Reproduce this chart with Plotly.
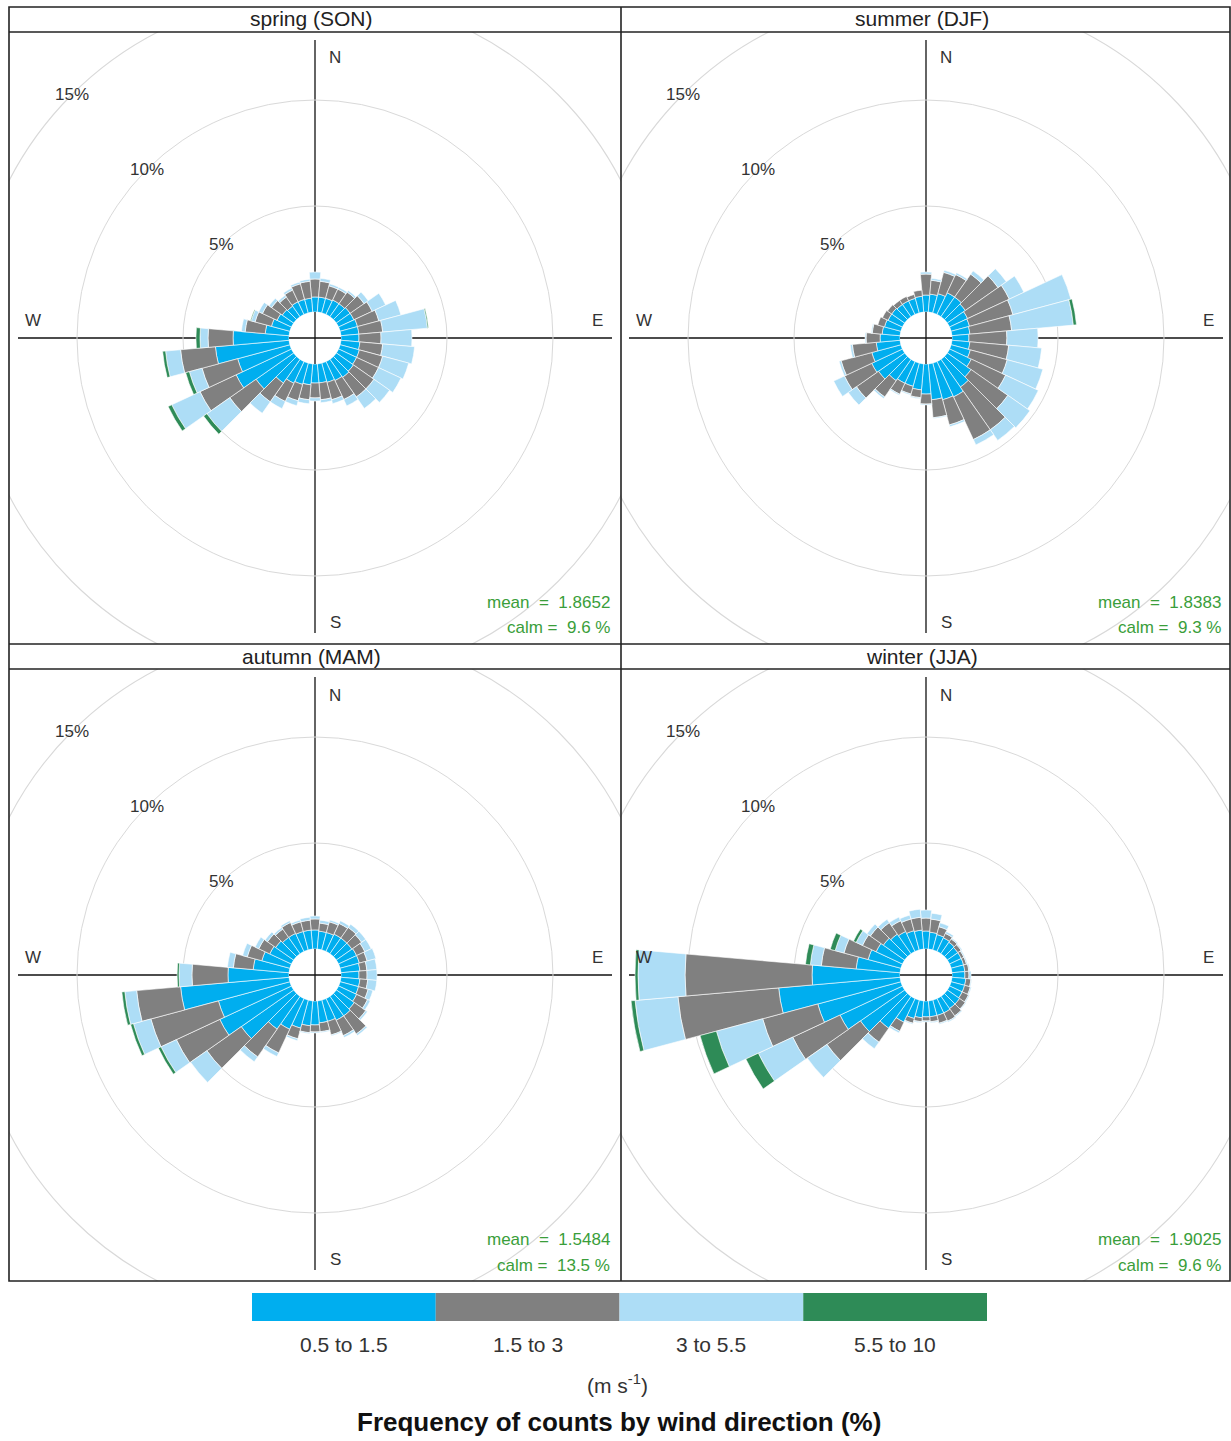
import plotly.graph_objects as go

# ---------------------------------------------------------------- data
DIRECTIONS = list(range(0, 360, 10))          # bin centres, degrees from north
SPEED_BANDS = ["0.5 to 1.5", "1.5 to 3", "3 to 5.5", "5.5 to 10"]
BAND_COLORS = ["#00AEEF", "#808080", "#ADDDF6", "#2E8B57"]

SEASONS = ["spring (SON)", "summer (DJF)", "autumn (MAM)", "winter (JJA)"]
MEAN_SPEED = ["1.8652", "1.8383", "1.5484", "1.9025"]
CALM_PCT = ["9.6", "9.3", "13.5", "9.6"]
GRID_PCT = [5, 10, 15]

# frequency (%) per direction bin, one list per speed band
son_b1 = [0.71, 0.71, 0.71, 0.75, 0.75, 0.80, 0.80, 0.85, 0.85, 0.85, 0.90, 0.94,
          0.94, 0.99, 1.04, 0.99, 0.94, 0.90, 0.90, 0.99, 1.04, 1.13, 1.37, 2.17,
          2.88, 2.55, 3.49, 2.64, 1.13, 0.90, 0.75, 0.66, 0.61, 0.66, 0.66, 0.66]
son_b2 = [0.85, 0.75, 0.61, 0.57, 0.67, 0.80, 0.95, 1.04, 1.13, 1.04, 1.08, 1.14,
          1.14, 1.18, 1.13, 0.99, 0.85, 0.80, 0.70, 0.71, 0.80, 0.95, 1.08, 1.51,
          1.88, 1.74, 1.65, 1.18, 0.95, 0.80, 0.76, 0.61, 0.52, 0.61, 0.76, 0.80]
son_b3 = [0.33, 0.14, 0.10, 0.10, 0.09, 0.24, 0.70, 1.08, 2.12, 1.46, 1.51, 1.27,
          1.17, 0.90, 0.66, 0.33, 0.19, 0.14, 0.15, 0.19, 0.24, 0.37, 0.66, 1.32,
          1.47, 0.62, 0.71, 0.38, 0.18, 0.19, 0.19, 0.15, 0.10, 0.10, 0.09, 0.10]
son_b4 = [0, 0, 0, 0, 0, 0, 0, 0, 0.05, 0, 0, 0,
          0, 0, 0, 0, 0, 0, 0, 0, 0, 0, 0, 0.19,
          0.19, 0.18, 0.14, 0.19, 0, 0.04, 0, 0, 0, 0, 0, 0]

djf_b1 = [0.80, 0.85, 0.94, 1.13, 1.13, 1.04, 0.94, 0.90, 0.85, 0.80, 0.85, 0.94,
          1.13, 1.37, 1.60, 1.84, 1.79, 1.70, 1.42, 1.23, 1.13, 1.13, 1.23, 1.51,
          1.60, 1.42, 1.13, 0.94, 0.85, 0.80, 0.75, 0.75, 0.71, 0.71, 0.71, 0.75]
djf_b2 = [0.99, 0.66, 1.04, 0.95, 1.32, 1.88, 2.17, 2.12, 1.98, 1.79, 1.84, 1.80,
          1.79, 2.12, 2.46, 2.22, 1.23, 0.85, 0.47, 0.37, 0.38, 0.57, 0.94, 1.27,
          1.42, 1.50, 1.13, 0.66, 0.47, 0.33, 0.29, 0.24, 0.23, 0.23, 0.19, 0.29]
djf_b3 = [0.10, 0.09, 0.10, 0.09, 0.19, 0.48, 0.76, 2.83, 2.92, 1.47, 1.56, 1.74,
          1.70, 1.27, 0.61, 0.28, 0.09, 0.04, 0.04, 0.05, 0.05, 0.05, 0.09, 0.47,
          0.56, 0.10, 0.10, 0.05, 0.05, 0, 0, 0, 0, 0, 0, 0]
djf_b4 = [0, 0, 0, 0, 0, 0, 0, 0, 0.15, 0, 0, 0,
          0, 0, 0, 0, 0, 0, 0, 0, 0, 0, 0, 0,
          0, 0, 0, 0, 0, 0, 0, 0, 0, 0, 0, 0]

mam_b1 = [0.90, 0.85, 0.85, 0.90, 0.90, 0.90, 0.94, 0.94, 0.90, 0.85, 0.90, 0.90,
          0.94, 1.04, 1.13, 1.13, 1.04, 1.04, 1.13, 1.18, 1.37, 1.60, 1.89, 3.02,
          3.73, 3.49, 5.14, 2.88, 1.70, 1.37, 1.13, 1.04, 0.94, 0.94, 0.90, 0.90]
mam_b2 = [0.52, 0.38, 0.52, 0.56, 0.61, 0.56, 0.43, 0.38, 0.33, 0.38, 0.37, 0.47,
          0.57, 0.66, 1.04, 0.80, 0.66, 0.42, 0.33, 0.33, 0.52, 1.23, 1.60, 1.98,
          2.26, 3.30, 2.08, 1.70, 0.94, 0.71, 0.57, 0.47, 0.48, 0.57, 0.47, 0.47]
mam_b3 = [0.14, 0.14, 0.09, 0.14, 0.19, 0.24, 0.33, 0.43, 0.47, 0.47, 0.43, 0.23,
          0.14, 0.09, 0.09, 0.10, 0.05, 0.05, 0.05, 0.05, 0.09, 0.19, 0.28, 0.94,
          0.80, 0.85, 0.56, 0.61, 0.28, 0.23, 0.19, 0.14, 0.09, 0.09, 0.09, 0.14]
mam_b4 = [0, 0, 0, 0, 0, 0, 0, 0, 0, 0, 0, 0,
          0, 0, 0, 0, 0, 0, 0, 0, 0, 0, 0, 0,
          0.14, 0.14, 0.14, 0.09, 0, 0, 0, 0, 0, 0, 0, 0]

jja_b1 = [0.85, 0.80, 0.75, 0.71, 0.66, 0.61, 0.61, 0.61, 0.61, 0.61, 0.66, 0.66,
          0.66, 0.71, 0.71, 0.75, 0.75, 0.75, 0.75, 0.80, 0.90, 1.23, 1.84, 2.55,
          3.25, 4.06, 5.75, 4.15, 2.08, 1.60, 1.37, 1.23, 1.13, 1.04, 0.94, 0.90]
jja_b2 = [0.61, 0.62, 0.38, 0.23, 0.19, 0.19, 0.14, 0.14, 0.19, 0.19, 0.24, 0.28,
          0.33, 0.33, 0.42, 0.43, 0.38, 0.24, 0.19, 0.19, 0.23, 0.47, 0.80, 1.93,
          2.46, 2.69, 4.77, 5.99, 1.65, 1.18, 0.71, 0.75, 0.66, 0.56, 0.57, 0.61]
jja_b3 = [0.38, 0.28, 0.19, 0.10, 0.05, 0.05, 0.05, 0.05, 0.05, 0.10, 0.04, 0.05,
          0.05, 0.04, 0.05, 0.05, 0.05, 0.05, 0.05, 0.05, 0.05, 0.09, 0.38, 1.13,
          1.79, 2.26, 2.03, 2.22, 0.52, 0.43, 0.33, 0.19, 0.19, 0.19, 0.19, 0.38]
jja_b4 = [0, 0, 0, 0, 0, 0, 0, 0, 0, 0, 0, 0,
          0, 0, 0, 0, 0, 0, 0, 0, 0, 0, 0, 0,
          0.65, 0.80, 0.19, 0.14, 0.23, 0.24, 0.14, 0, 0, 0, 0, 0]

SEASON_BANDS = [
    [son_b1, son_b2, son_b3, son_b4],
    [djf_b1, djf_b2, djf_b3, djf_b4],
    [mam_b1, mam_b2, mam_b3, mam_b4],
    [jja_b1, jja_b2, jja_b3, jja_b4],
]

# ---------------------------------------------------------------- geometry (px)
W, H = 1231, 1441
PANELS = [(9, 32, 621, 644), (621, 32, 1230, 644),
          (9, 669, 621, 1281), (621, 669, 1230, 1281)]
CENTERS = [(315, 338), (926, 338), (315, 975), (926, 975)]
STRIP_Y = [19, 19, 656, 656]
POLAR_R = 305          # radius of the polar area
HOLE_PX = 26           # calm offset in the middle
PX_PER_PCT = 21.2      # radial scale
FONT = "Liberation Sans, Arial, sans-serif"
TEXT_COL = "#333333"
STAT_COL = "#3A9E3A"
GRID_COL = "#D9D9D9"


def fx(px):
    return px / W


def fy(py):
    return 1 - py / H


def r_px(pct):
    return HOLE_PX + pct * PX_PER_PCT


def label(text, x, y, size, color=TEXT_COL, xanchor="center"):
    return dict(text=text, x=fx(x), y=fy(y), xref="paper", yref="paper",
                xanchor=xanchor, yanchor="middle", showarrow=False,
                font=dict(size=size, color=color, family=FONT))


fig = go.Figure()
shapes = []
annotations = []
layout_extra = {}

for i, (bands, (cx, cy), (x0, y0, x1, y1)) in enumerate(zip(SEASON_BANDS, CENTERS, PANELS)):
    n = "" if i == 0 else str(i + 1)
    polar_name = "polar" + n

    # stacked wind-rose wedges
    for band, vals, col in zip(SPEED_BANDS, bands, BAND_COLORS):
        fig.add_trace(go.Barpolar(
            r=vals, theta=DIRECTIONS, width=[10] * len(DIRECTIONS),
            name=band, subplot=polar_name, showlegend=False,
            marker=dict(color=col, line=dict(color="white", width=0.6)),
            hoverinfo="skip",
        ))

    layout_extra[polar_name] = dict(
        domain=dict(x=[fx(cx - POLAR_R), min(1.0, fx(cx + POLAR_R))],
                    y=[fy(cy + POLAR_R), fy(cy - POLAR_R)]),
        hole=HOLE_PX / POLAR_R,
        bgcolor="rgba(0,0,0,0)",
        barmode="stack",
        angularaxis=dict(rotation=90, direction="clockwise", showgrid=False,
                         showline=False, showticklabels=False, ticks=""),
        radialaxis=dict(range=[0, (POLAR_R - HOLE_PX) / PX_PER_PCT],
                        tickvals=GRID_PCT[:2], showticklabels=False, ticks="",
                        showline=False, showgrid=True, gridcolor=GRID_COL,
                        gridwidth=1.1),
    )

    # cartesian frame under each rose, 1 unit = 1 px, used for the clipped
    # outer grid circle and the compass cross
    xa, ya = "xaxis" + n, "yaxis" + n
    xr, yr = "x" + n, "y" + n
    layout_extra[xa] = dict(domain=[fx(x0), fx(x1)], range=[x0 - cx, x1 - cx],
                            visible=False, fixedrange=True, anchor=yr)
    layout_extra[ya] = dict(domain=[fy(y1), fy(y0)], range=[cy - y1, cy - y0],
                            visible=False, fixedrange=True, anchor=xr)
    fig.add_trace(go.Scatter(x=[None], y=[None], xaxis=xr, yaxis=yr,
                             mode="lines", showlegend=False, hoverinfo="skip"))

    R15 = r_px(GRID_PCT[2])
    shapes.append(dict(type="circle", xref=xr, yref=yr, x0=-R15, x1=R15,
                       y0=-R15, y1=R15, line=dict(color=GRID_COL, width=1.1),
                       layer="below"))
    shapes.append(dict(type="line", xref=xr, yref=yr, x0=0, x1=0, y0=-295, y1=298,
                       line=dict(color="#111111", width=1.3), layer="below"))
    shapes.append(dict(type="line", xref=xr, yref=yr, x0=-297, x1=297, y0=0, y1=0,
                       line=dict(color="#111111", width=1.3), layer="below"))

    # compass letters
    for lab, dx, dy in [("N", 20, -280), ("E", 282, -18), ("S", 20, 284), ("W", -282, -18)]:
        annotations.append(label(lab, cx + dx, cy + dy, 17))
    # percentage labels along the 315 degree direction
    for p in GRID_PCT:
        d = r_px(p) * 0.7071
        annotations.append(label(f"{p}%", cx - d, cy - d, 17))
    # statistics
    nb = "\u00a0"
    annotations.append(label(f"mean{nb}{nb}={nb}{nb}{MEAN_SPEED[i]}", cx + 297, cy + 264,
                             17, STAT_COL, "right"))
    annotations.append(label(f"calm{nb}={nb}{nb}{CALM_PCT[i]}{nb}%", cx + 297, cy + 290,
                             17, STAT_COL, "right"))
    # strip title
    annotations.append(label(SEASONS[i], (x0 + x1) / 2 - 4, STRIP_Y[i], 21, "#222222"))

# panel borders and strips
BORDER = dict(color="#222222", width=1.6)
shapes.append(dict(type="rect", xref="paper", yref="paper", x0=fx(9), x1=fx(1230),
                   y0=fy(1281), y1=fy(7), line=BORDER))
for yy in (32, 644, 669):
    shapes.append(dict(type="line", xref="paper", yref="paper", x0=fx(9), x1=fx(1230),
                       y0=fy(yy), y1=fy(yy), line=BORDER))
shapes.append(dict(type="line", xref="paper", yref="paper", x0=fx(621), x1=fx(621),
                   y0=fy(1281), y1=fy(7), line=BORDER))

# colour key
KEY_X0, KEY_X1, KEY_Y0, KEY_Y1 = 252, 987, 1293, 1321
seg = (KEY_X1 - KEY_X0) / len(SPEED_BANDS)
for j, (band, col) in enumerate(zip(SPEED_BANDS, BAND_COLORS)):
    sx0 = KEY_X0 + j * seg
    shapes.append(dict(type="rect", xref="paper", yref="paper", x0=fx(sx0),
                       x1=fx(sx0 + seg), y0=fy(KEY_Y1), y1=fy(KEY_Y0),
                       fillcolor=col, line=dict(width=0)))
    annotations.append(label(band, sx0 + seg / 2, 1344, 21))
annotations.append(label("(m s<sup>-1</sup>)", 617, 1384, 21))
annotations.append(label("<b>Frequency of counts by wind direction (%)</b>", 619, 1422,
                         26, "#111111"))

fig.update_layout(
    width=W, height=H,
    margin=dict(l=0, r=0, t=0, b=0),
    paper_bgcolor="white", plot_bgcolor="rgba(0,0,0,0)",
    showlegend=False,
    font=dict(family=FONT),
    shapes=shapes,
    annotations=annotations,
    **layout_extra,
)

fig.write_html("out.html")
